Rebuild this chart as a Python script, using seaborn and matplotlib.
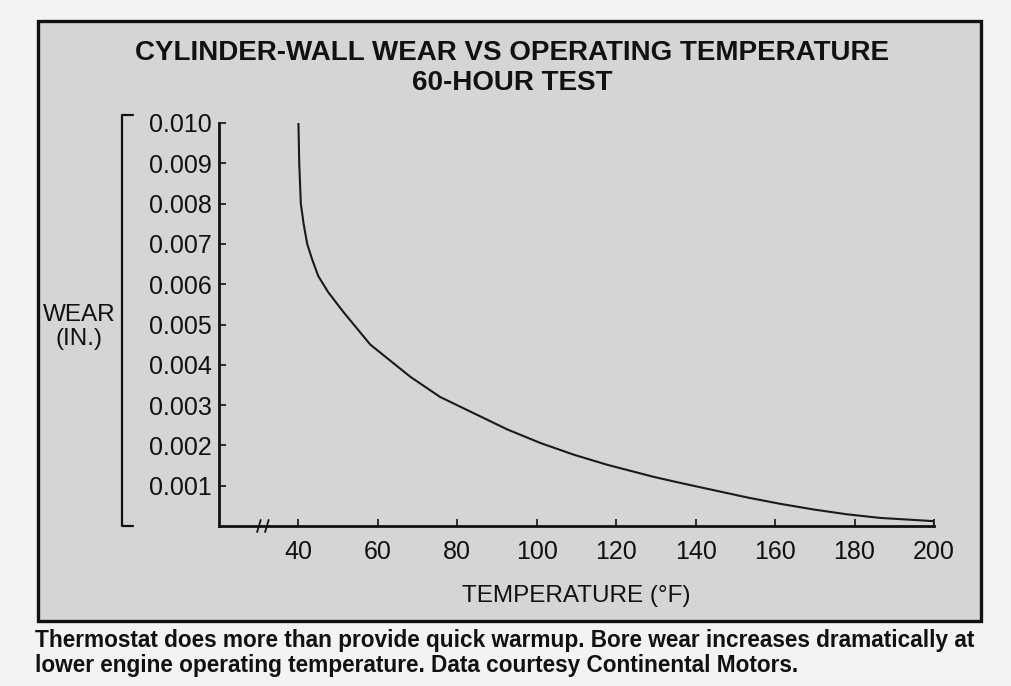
import matplotlib
matplotlib.use("Agg")
import matplotlib.pyplot as plt
import seaborn as sns
from matplotlib.patches import Rectangle
from matplotlib.lines import Line2D

# valores
temperatura = [40.0, 40.2, 40.6, 41.3, 42.2, 43.5, 45.0, 47.5, 51.4, 58.1, 68.2,
               75.7, 84.1, 92.5, 100.9, 109.3, 117.7, 129.4, 136.1, 144.5, 152.9,
               161.3, 169.7, 178.1, 186.5, 200.0, 200.0]
desgaste = [0.0100, 0.0090, 0.0080, 0.0075, 0.0070, 0.0066, 0.0062, 0.0058,
            0.0053, 0.0045, 0.0037, 0.0032, 0.0028, 0.0024, 0.00206, 0.00177,
            0.00152, 0.00122, 0.00107, 0.00089, 0.00071, 0.00055, 0.00041,
            0.00029, 0.00020, 0.00012, 0.0]

x_ticks = [40, 60, 80, 100, 120, 140, 160, 180, 200]
y_ticks = [0.001, 0.002, 0.003, 0.004, 0.005, 0.006, 0.007, 0.008, 0.009, 0.010]

titulo = "CYLINDER-WALL WEAR VS OPERATING TEMPERATURE\n60-HOUR TEST"
legenda = ("Thermostat does more than provide quick warmup. Bore wear increases dramatically at\n"
           "lower engine operating temperature. Data courtesy Continental Motors.")

sns.set_theme(style="white")
plt.rcParams['font.family'] = ['Liberation Sans', 'DejaVu Sans']

W, H = 1012, 686
fig = plt.figure(figsize=(W / 100, H / 100), dpi=100)
fig.patch.set_facecolor('#f3f3f3')

# caixa cinza
caixa = Rectangle((38 / W, 1 - 621 / H), (981 - 38) / W, (621 - 21) / H,
                  transform=fig.transFigure, facecolor='#d5d5d5',
                  edgecolor='#111111', linewidth=2.4, zorder=-5)
fig.patches.append(caixa)

ax = fig.add_axes([219 / W, 1 - 526 / H, (934 - 219) / W, (526 - 123) / H])
ax.set_facecolor('none')
ax.set_zorder(2)

sns.lineplot(x=temperatura, y=desgaste, ax=ax, color='#1a1a1a', linewidth=1.5,
             estimator=None, sort=False)

ax.set_xlim(20, 200)
ax.set_ylim(0, 0.010)
ax.set_xticks(x_ticks)
ax.set_yticks(y_ticks)
ax.set_xticklabels([str(v) for v in x_ticks])
ax.set_yticklabels([f"{v:.3f}" for v in y_ticks])
ax.tick_params(axis='both', direction='in', length=5, width=1.2, colors='#111111',
               labelsize=18, bottom=True, left=True)
ax.tick_params(axis='x', pad=10)
ax.tick_params(axis='y', pad=5)

for lado in ['top', 'right']:
    ax.spines[lado].set_visible(False)
for lado in ['left', 'bottom']:
    ax.spines[lado].set_color('#111111')
    ax.spines[lado].set_linewidth(2.0)

# marca de quebra do eixo x
for x0 in [29.6, 31.6]:
    ax.plot([x0, x0 + 0.9], [-0.00015, 0.00015], color='#111111', lw=1.3, clip_on=False)

ax.set_xlabel("TEMPERATURE (°F)", fontsize=17.5, color='#111111', labelpad=15)
ax.set_ylabel("WEAR\n(IN.)", fontsize=17.5, color='#111111', rotation=0,
              ha='center', va='center', linespacing=1.1)
ax.yaxis.set_label_coords((79 - 219) / 715, (526 - 327) / 403)

# colchete do eixo y
bx = [133 / W, 122 / W, 122 / W, 133 / W]
by = [1 - 115 / H, 1 - 115 / H, 1 - 526 / H, 1 - 526 / H]
fig.lines.append(Line2D(bx, by, transform=fig.transFigure, color='#111111', lw=1.6))

fig.text(512 / W, 1 - 68 / H, titulo, ha='center', va='center', fontsize=20,
         fontweight='bold', color='#111111', linespacing=1.25)

fig.text(35 / W, 1 - 653 / H, legenda, ha='left', va='center', fontsize=16.3,
         fontweight='bold', color='#111111', linespacing=1.12)

fig.savefig("out.png", dpi=100, facecolor=fig.get_facecolor())
